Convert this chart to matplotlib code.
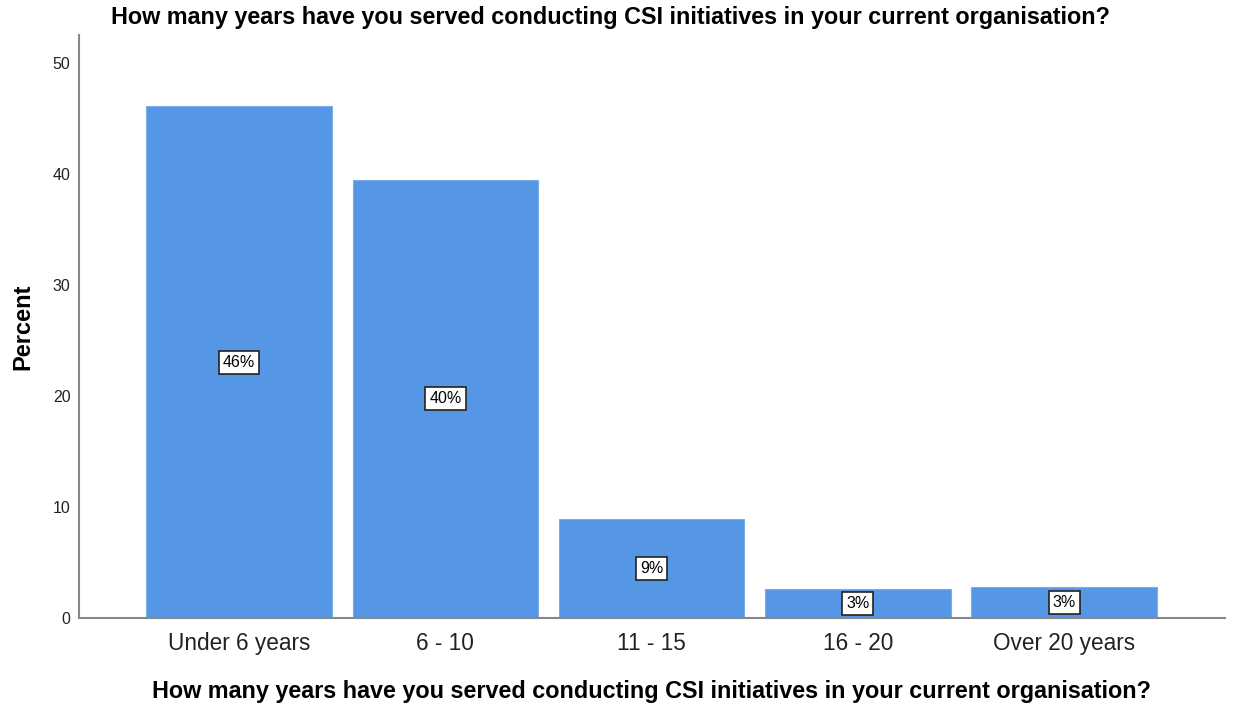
import numpy as np
import matplotlib.pyplot as plt

plt.rcParams['font.family'] = ['Liberation Sans', 'DejaVu Sans']

categories = ["Under 6 years", "6 - 10", "11 - 15", "16 - 20", "Over 20 years"]
percent = [46.1, 39.5, 8.9, 2.6, 2.8]
labels = ["46%", "40%", "9%", "3%", "3%"]

question = "How many years have you served conducting CSI initiatives in your current organisation?"

fig = plt.figure(figsize=(12.33, 7.04), dpi=100)
ax = fig.add_axes([0.064, 0.122, 0.9295, 0.828])

x = np.arange(len(categories))
bars = ax.bar(x, percent, width=0.9, color="#5596e5", edgecolor="#7aaeea", linewidth=0.8)

# value boxes sit at half the bar height
for xi, v, lab in zip(x, percent, labels):
    ax.text(xi, v / 2, lab, ha="center", va="center", fontsize=11.5,
            bbox=dict(boxstyle="square,pad=0.25", facecolor="white", edgecolor="#222222", linewidth=1.2))

ax.set_xlim(-0.777, 4.78)
ax.set_ylim(0, 52.5)
ax.set_yticks([0, 10, 20, 30, 40, 50])
ax.set_xticks(x)
ax.set_xticklabels(categories, fontsize=16.3, color="#222222")
ax.tick_params(axis="y", length=0, labelsize=11.5, pad=6, colors="#222222")
ax.tick_params(axis="x", length=0, pad=10)

for side in ["top", "right"]:
    ax.spines[side].set_visible(False)
for side in ["left", "bottom"]:
    ax.spines[side].set_color("#888888")
    ax.spines[side].set_linewidth(1.5)

ax.set_ylabel("Percent", fontsize=17, fontweight="bold", labelpad=13)
ax.set_xlabel(question, fontsize=16.8, fontweight="bold", labelpad=18)
fig.text(0.4955, 0.975, question, ha="center", va="center", fontsize=16.8, fontweight="bold")

fig.savefig("out.png", dpi=100)
